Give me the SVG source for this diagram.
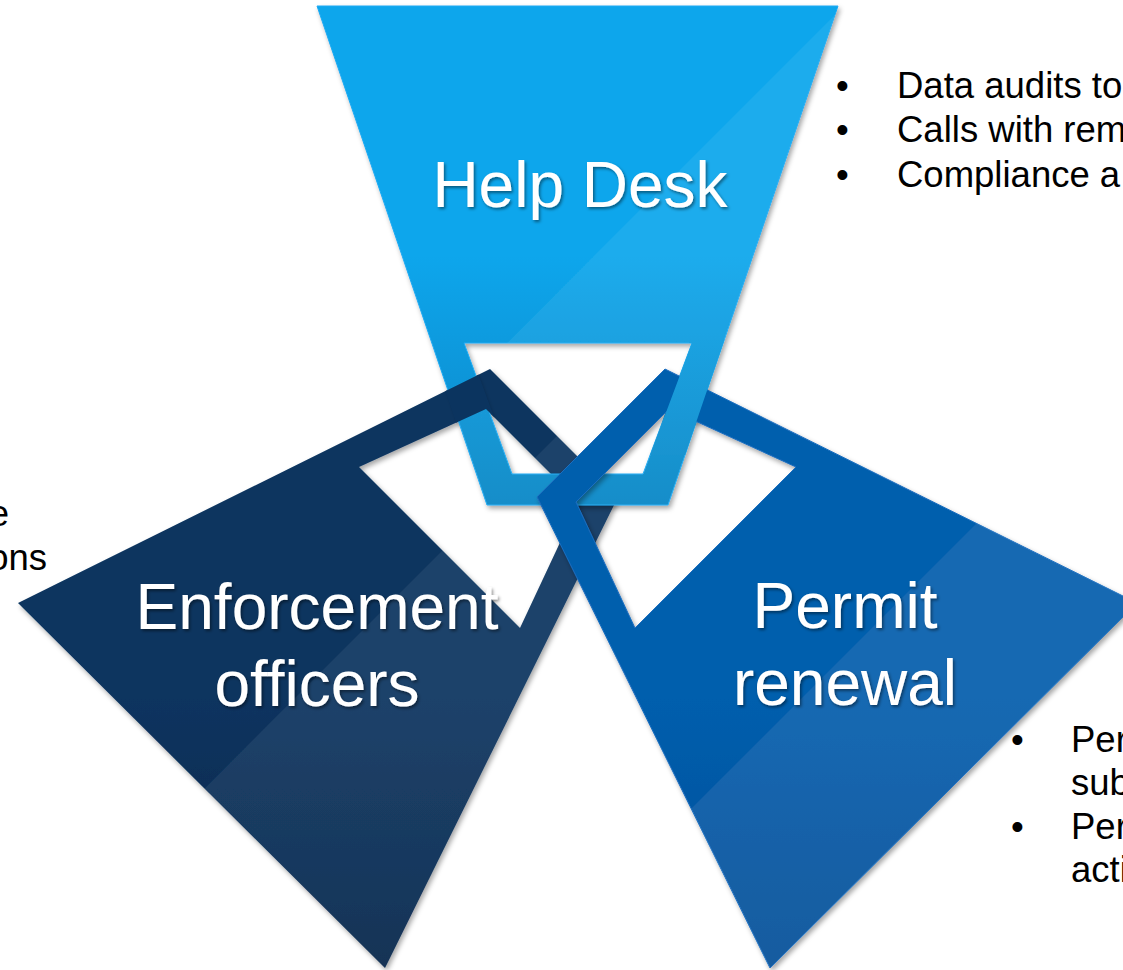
<svg xmlns="http://www.w3.org/2000/svg" xmlns:xlink="http://www.w3.org/1999/xlink" width="1123" height="970" viewBox="0 0 1123 970">
  <style>
    .label { font-family: "Liberation Sans", Arial, sans-serif; font-size: 64px; fill: #ffffff; text-anchor: middle; }
    .body { font-family: "Liberation Sans", Arial, sans-serif; font-size: 36.5px; fill: #000000; }
    .overlay { fill: #ffffff; fill-opacity: 0.07; }
  </style>
  <defs>
    <path id="p-hd" d="M317,6 L838,6 L668,505 L487,505 Z M464,343 L692,343 L643,474 L512,474 Z" fill-rule="evenodd"/>
    <path id="p-en" d="M385,968 L18,603 L490,369 L618,497 Z M520,628 L359,467 L486,409 L579,502 Z" fill-rule="evenodd"/>
    <path id="p-pr" d="M770,968 L1137,603 L665,369 L537,497 Z M635,628 L796,467 L669,409 L576,502 Z" fill-rule="evenodd"/>
    <linearGradient id="g-hd" gradientUnits="userSpaceOnUse" x1="0" y1="6" x2="0" y2="505">
      <stop offset="0" stop-color="#0AA6EC"/>
      <stop offset="0.5" stop-color="#0AA6EC"/>
      <stop offset="1" stop-color="#0785C5"/>
    </linearGradient>
    <linearGradient id="g-en" gradientUnits="userSpaceOnUse" x1="0" y1="369" x2="0" y2="968">
      <stop offset="0" stop-color="#0B345F"/>
      <stop offset="0.55" stop-color="#0B345F"/>
      <stop offset="1" stop-color="#05244A"/>
    </linearGradient>
    <linearGradient id="g-pr" gradientUnits="userSpaceOnUse" x1="0" y1="369" x2="0" y2="968">
      <stop offset="0" stop-color="#055EAD"/>
      <stop offset="0.55" stop-color="#055EAD"/>
      <stop offset="1" stop-color="#064F98"/>
    </linearGradient>
    <clipPath id="c-hd"><path d="M317,6 L838,6 L668,505 L487,505 Z M464,343 L692,343 L643,474 L512,474 Z" clip-rule="evenodd"/></clipPath>
    <clipPath id="c-en"><path d="M385,968 L18,603 L490,369 L618,497 Z M520,628 L359,467 L486,409 L579,502 Z" clip-rule="evenodd"/></clipPath>
    <clipPath id="c-pr"><path d="M770,968 L1137,603 L665,369 L537,497 Z M635,628 L796,467 L669,409 L576,502 Z" clip-rule="evenodd"/></clipPath>
    <!-- crossing zones: the Help Desk side bands, slightly widened -->
    <clipPath id="c-left"><path d="M427.8,340 L467,340 L467,343 L506.2,450 L465.3,450 Z"/></clipPath>
    <clipPath id="c-right"><path d="M689,340 L727.2,340 L688,455 L647.1,455 L689,343 Z"/></clipPath>
    <filter id="shadow" x="-10%" y="-10%" width="120%" height="120%">
      <feDropShadow dx="2" dy="3" stdDeviation="2.5" flood-color="#000000" flood-opacity="0.35"/>
    </filter>
    <filter id="tshadow" x="-10%" y="-20%" width="120%" height="140%">
      <feDropShadow dx="1.5" dy="2" stdDeviation="1.5" flood-color="#000000" flood-opacity="0.45"/>
    </filter>
  </defs>

  <rect x="0" y="0" width="1123" height="970" fill="#ffffff"/>

  <g id="node-enforcement" filter="url(#shadow)">
    <use xlink:href="#p-en" fill="url(#g-en)"/>
    <polygon class="overlay" clip-path="url(#c-en)" points="993,0 1200,0 1200,1000 0,1000 0,993"/>
  </g>
  <g id="node-helpdesk" filter="url(#shadow)">
    <use xlink:href="#p-hd" fill="url(#g-hd)" stroke="#1FAAF3" stroke-width="1"/>
    <polygon class="overlay" clip-path="url(#c-hd)" points="850,0 1200,0 1200,1000 0,1000 0,850"/>
  </g>
  <g id="node-permit" filter="url(#shadow)">
    <use xlink:href="#p-pr" fill="url(#g-pr)" stroke="#1A6EC0" stroke-width="1"/>
    <polygon class="overlay" clip-path="url(#c-pr)" points="1200,300 1200,1000 500,1000"/>
  </g>
  <g id="weave">
    <!-- Enforcement band passes over Help Desk on the left -->
    <g clip-path="url(#c-left)">
      <use xlink:href="#p-en" fill="#0B345F"/>
    </g>
    <!-- Help Desk band passes over Permit renewal on the right -->
    <g clip-path="url(#c-right)">
      <use xlink:href="#p-hd" fill="url(#g-hd)"/>
      <polygon class="overlay" clip-path="url(#c-hd)" points="850,0 1200,0 1200,1000 0,1000 0,850"/>
    </g>
  </g>

  <g id="labels" filter="url(#tshadow)">
    <text class="label" x="580" y="207">Help Desk</text>
    <text class="label" x="317" y="629">Enforcement</text>
    <text class="label" x="317" y="706">officers</text>
    <text class="label" x="845" y="628">Permit</text>
    <text class="label" x="845" y="705">renewal</text>
  </g>

  <g id="notes-helpdesk">
    <text class="body" x="836" y="98">•</text>
    <text class="body" x="897" y="98">Data audits to</text>
    <text class="body" x="836" y="142">•</text>
    <text class="body" x="897" y="142">Calls with rem</text>
    <text class="body" x="836" y="187">•</text>
    <text class="body" x="897" y="187">Compliance a</text>
  </g>
  <g id="notes-enforcement">
    <text class="body" x="9" y="526" text-anchor="end">e</text>
    <text class="body" x="47" y="570" text-anchor="end">ons</text>
  </g>
  <g id="notes-permit">
    <text class="body" x="1011" y="752">•</text>
    <text class="body" x="1071" y="752">Per</text>
    <text class="body" x="1071" y="795">sub</text>
    <text class="body" x="1011" y="839">•</text>
    <text class="body" x="1071" y="839">Per</text>
    <text class="body" x="1071" y="882">acti</text>
  </g>
</svg>
